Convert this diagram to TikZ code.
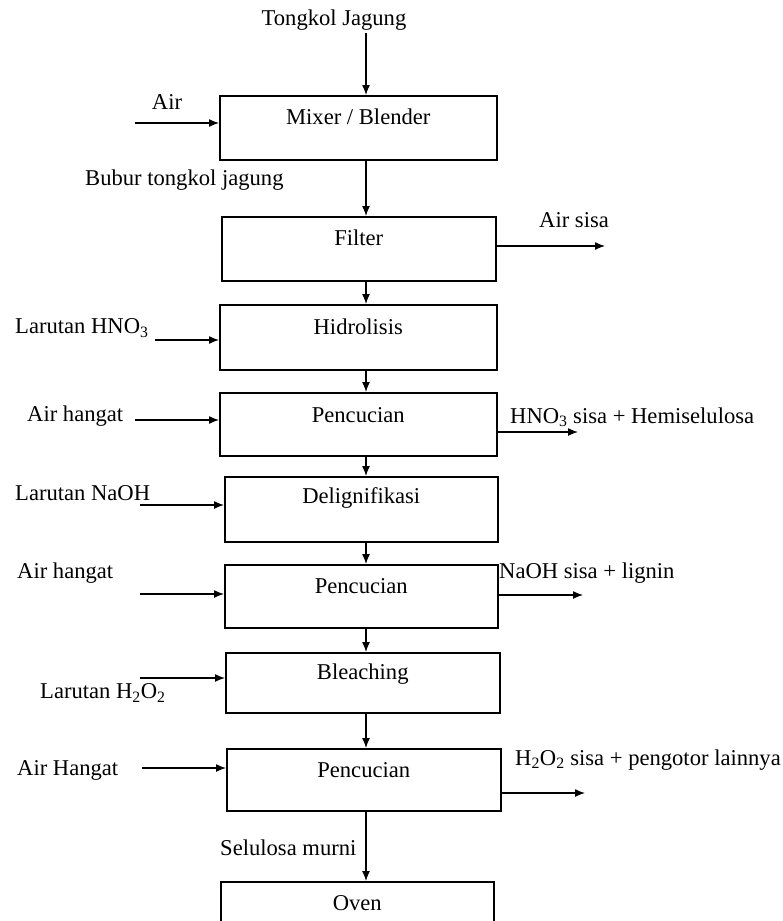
\documentclass[tikz,border=0pt]{standalone}
\usepackage{fontspec}
\setmainfont{Liberation Serif}
\usetikzlibrary{arrows.meta,calc}
\begin{document}
\begin{tikzpicture}[x=1pt,y=-1pt,
  every node/.style={font=\fontsize{22.6}{26}\selectfont},
  box/.style={draw, line width=1.5pt, anchor=north west, inner sep=0pt},
  lbl/.style={inner sep=0pt},
  flow/.style={line width=1.3pt, -{Latex[length=10pt,width=8pt]}}]
\clip (0,0) rectangle (782,921);
\fill[white] (0,0) rectangle (782,921);
\coordinate (cx) at (366,0);
% boxes
\node[box, minimum width=277pt, minimum height=64pt] (b1) at (219,95) {};
\node[box, minimum width=274pt, minimum height=64pt] (b2) at (221,216) {};
\node[box, minimum width=277pt, minimum height=65pt] (b3) at (219,304) {};
\node[box, minimum width=277pt, minimum height=63pt] (b4) at (219,392) {};
\node[box, minimum width=273pt, minimum height=65pt] (b5) at (224,476) {};
\node[box, minimum width=273pt, minimum height=63pt] (b6) at (224,564) {};
\node[box, minimum width=274pt, minimum height=60pt] (b7) at (225,652) {};
\node[box, minimum width=274pt, minimum height=62pt] (b8) at (226,748) {};
\node[box, minimum width=273pt, minimum height=70pt] (b9) at (220,881) {};
% box texts
\node[lbl] (t1) at ($(b1.north)+(0,22)$) {Mixer / Blender};
\node[lbl] (t2) at ($(b2.north)+(0,22)$) {Filter};
\node[lbl] (t3) at ($(b3.north)+(0,23)$) {Hidrolisis};
\node[lbl] (t4) at ($(b4.north)+(0,23)$) {Pencucian};
\node[lbl] (t5) at ($(b5.north)+(0,22)$) {Delignifikasi};
\node[lbl] (t6) at ($(b6.north)+(0,22)$) {Pencucian};
\node[lbl] (t7) at ($(b7.north)+(0,22)$) {Bleaching};
\node[lbl] (t8) at ($(b8.north)+(0,22)$) {Pencucian};
\node[lbl] (t9) at ($(b9.north)+(0,22)$) {Oven};
% outside labels
\node[lbl] (tongkol) at (334,20) {Tongkol Jagung};
\node[lbl] (air) at (167,102) {Air};
\node[lbl, anchor=west] (bubur) at (85,180) {Bubur tongkol jagung};
\node[lbl, anchor=west] (airsisa) at (539,220) {Air sisa};
\node[lbl, anchor=west] (hno3) at (15,328) {Larutan HNO\textsubscript{3}};
\node[lbl, anchor=west] (hangat1) at (27,416) {Air hangat};
\node[lbl, anchor=west] (hnosisa) at (510,417) {HNO\textsubscript{3} sisa + Hemiselulosa};
\node[lbl, anchor=west] (naoh) at (15,493) {Larutan NaOH};
\node[lbl, anchor=west] (hangat2) at (17,573) {Air hangat};
\node[lbl, anchor=west] (naohsisa) at (499,573) {NaOH sisa + lignin};
\node[lbl, anchor=west] (h2o2) at (40,693) {Larutan H\textsubscript{2}O\textsubscript{2}};
\node[lbl, anchor=west] (hangat3) at (17,770) {Air Hangat};
\node[lbl, anchor=west] (h2o2sisa) at (515,760) {H\textsubscript{2}O\textsubscript{2} sisa + pengotor lainnya};
\node[lbl, anchor=west] (selulosa) at (220,848) {Selulosa murni};
% free ends
\coordinate (inT) at (366,33);
\coordinate (in1) at (135,123);
\coordinate (in3) at (155,340);
\coordinate (in4) at (135,420);
\coordinate (in5) at (140,505);
\coordinate (in6) at (140,594);
\coordinate (in7) at (140,678);
\coordinate (in8) at (142,768);
\coordinate (out2) at (605,246);
\coordinate (out4) at (578,432);
\coordinate (out6) at (583,595);
\coordinate (out8) at (585,793);
% main flow
\draw[flow] (inT) -- (b1.north -| cx);
\draw[flow] (b1.south -| cx) -- (b2.north -| cx);
\draw[flow] (b2.south -| cx) -- (b3.north -| cx);
\draw[flow] (b3.south -| cx) -- (b4.north -| cx);
\draw[flow] (b4.south -| cx) -- (b5.north -| cx);
\draw[flow] (b5.south -| cx) -- (b6.north -| cx);
\draw[flow] (b6.south -| cx) -- (b7.north -| cx);
\draw[flow] (b7.south -| cx) -- (b8.north -| cx);
\draw[flow] (b8.south -| cx) -- (b9.north -| cx);
% inputs
\draw[flow] (in1) -- (in1 -| b1.west);
\draw[flow] (in3) -- (in3 -| b3.west);
\draw[flow] (in4) -- (in4 -| b4.west);
\draw[flow] (in5) -- (in5 -| b5.west);
\draw[flow] (in6) -- (in6 -| b6.west);
\draw[flow] (in7) -- (in7 -| b7.west);
\draw[flow] (in8) -- (in8 -| b8.west);
% outputs
\draw[flow] (out2 -| b2.east) -- (out2);
\draw[flow] (out4 -| b4.east) -- (out4);
\draw[flow] (out6 -| b6.east) -- (out6);
\draw[flow] (out8 -| b8.east) -- (out8);
\end{tikzpicture}
\end{document}
